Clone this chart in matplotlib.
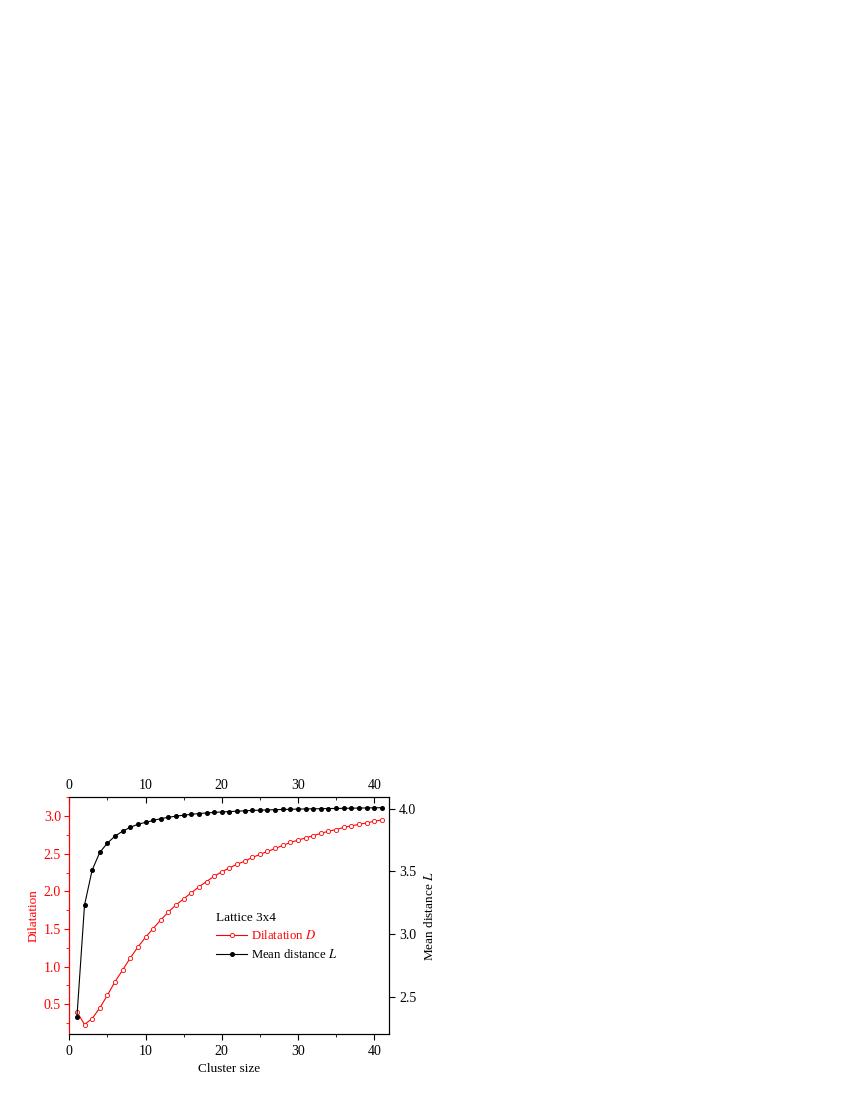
import matplotlib
matplotlib.use('Agg')
import matplotlib.pyplot as plt
from matplotlib.ticker import MultipleLocator

plt.rcParams['font.family'] = ['Liberation Serif', 'DejaVu Serif']
plt.rcParams['font.size'] = 9.5
plt.rcParams['xtick.labelsize'] = 10
plt.rcParams['ytick.labelsize'] = 10
plt.rcParams['mathtext.fontset'] = 'stix'

# cluster sizes and the two series
cluster_size = list(range(1, 42))
dilatation = [0.40, 0.23, 0.31, 0.45, 0.62, 0.80, 0.955, 1.115, 1.26, 1.39,
              1.505, 1.62, 1.725, 1.82, 1.90, 1.98, 2.06, 2.13, 2.20, 2.26,
              2.31, 2.36, 2.40, 2.45, 2.49, 2.53, 2.57, 2.61, 2.65, 2.68,
              2.71, 2.74, 2.77, 2.80, 2.82, 2.85, 2.87, 2.89, 2.91, 2.93, 2.95]
mean_dist = [2.335, 3.23, 3.51, 3.65, 3.725, 3.78, 3.82, 3.85, 3.875, 3.89,
             3.905, 3.92, 3.93, 3.94, 3.947, 3.954, 3.96, 3.965, 3.969, 3.973,
             3.976, 3.979, 3.982, 3.985, 3.987, 3.989, 3.991, 3.993, 3.994, 3.996,
             3.997, 3.998, 3.999, 4.000, 4.001, 4.002, 4.003, 4.004, 4.005, 4.006, 4.007]

fig = plt.figure(figsize=(8.5, 11), dpi=100)
ax = fig.add_axes([0.0815, 0.0597, 0.3758, 0.2155])
ax2 = ax.twinx()

lD, = ax.plot(cluster_size, dilatation, color='red', lw=0.8, marker='o',
              ms=3.0, mfc='white', mec='red', mew=0.6, label='Dilatation $\\it{D}$')
lL, = ax2.plot(cluster_size, mean_dist, color='black', lw=0.8, marker='o',
               ms=2.6, mfc='black', mec='black', label='Mean distance $\\it{L}$')

ax.set_xlim(0, 41.9)
ax.set_ylim(0.1, 3.25)
ax2.set_ylim(2.2, 4.09)

ax.xaxis.set_major_locator(MultipleLocator(10))
ax.xaxis.set_minor_locator(MultipleLocator(5))
ax.yaxis.set_major_locator(MultipleLocator(0.5))
ax.yaxis.set_minor_locator(MultipleLocator(0.25))
ax2.yaxis.set_major_locator(MultipleLocator(0.5))

ax.tick_params(axis='x', which='both', direction='out', top=False)
ax.tick_params(axis='x', which='major', length=4)
ax.tick_params(axis='x', which='minor', length=2.5)
ax.tick_params(axis='y', which='both', direction='out', colors='red', pad=2.5)
ax.tick_params(axis='y', which='major', length=3.5)
ax.tick_params(axis='y', which='minor', length=2.5)
ax2.tick_params(axis='y', which='major', direction='out', length=4)
ax.spines['left'].set_color('red')
ax2.spines['left'].set_color('red')

# top axis: same scale, ticks pointing in
ax2.xaxis.set_visible(True)
ax2.tick_params(axis='x', which='both', direction='in', top=True, labeltop=True,
                bottom=False, labelbottom=False)
ax2.tick_params(axis='x', which='major', length=4)
ax2.tick_params(axis='x', which='minor', length=2.5)

ax.set_xlabel('Cluster size', labelpad=4)
ax.set_ylabel('Dilatation', color='red', labelpad=3)
ax2.set_ylabel('Mean distance $\\it{L}$', labelpad=5)

leg = ax.legend(handles=[lD, lL], title='Lattice 3x4', frameon=False,
                loc='upper left', bbox_to_anchor=(0.44, 0.545),
                handlelength=2.4, handletextpad=0.3, labelspacing=0.45,
                borderpad=0, alignment='left', labelcolor=['red', 'black'],
                title_fontsize=9.5, fontsize=9.2)

fig.savefig('out.png', dpi=100)
